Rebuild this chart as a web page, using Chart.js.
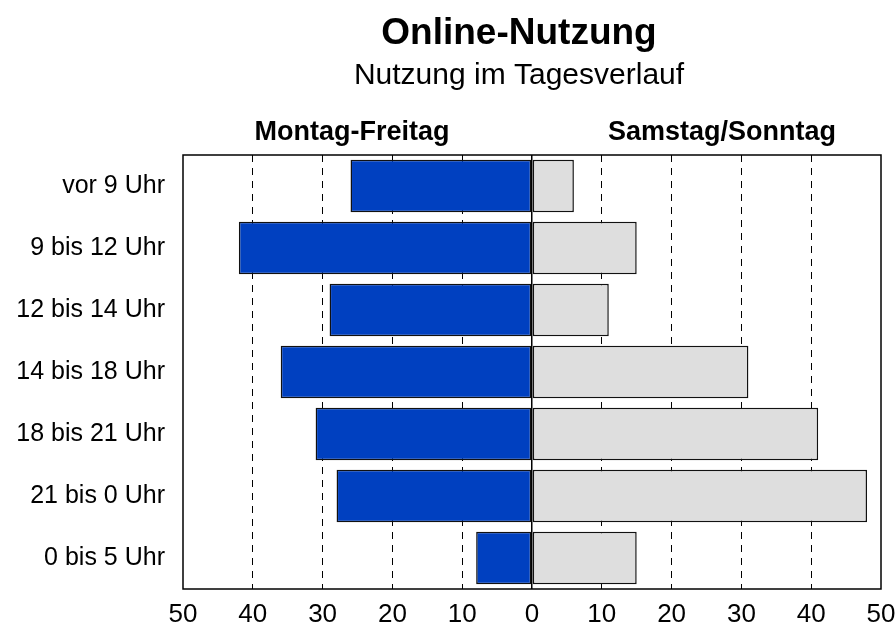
<!DOCTYPE html>
<html>
<head>
<meta charset="utf-8">
<script src="https://cdn.jsdelivr.net/npm/chart.js@4"></script>
<style>
html,body{margin:0;padding:0;background:#fff;}
#wrap{width:896px;height:627px;position:relative;}
</style>
</head>
<body>
<div id="wrap"><canvas id="c" width="896" height="627"></canvas></div>
<script>
const categories = ["vor 9 Uhr","9 bis 12 Uhr","12 bis 14 Uhr","14 bis 18 Uhr","18 bis 21 Uhr","21 bis 0 Uhr","0 bis 5 Uhr"];
const weekdayValues = [26, 42, 29, 36, 31, 28, 8];
const weekendValues = [6, 15, 11, 31, 41, 48, 15];
const tickValues = [-50,-40,-30,-20,-10,0,10,20,30,40,50];
const titleText = "Online-Nutzung";
const subtitleText = "Nutzung im Tagesverlauf";
const leftHeading = "Montag-Freitag";
const rightHeading = "Samstag/Sonntag";

const FONT = "'Liberation Sans', Arial, sans-serif";

const decor = {
  id: 'decor',
  afterDraw(chart) {
    const ctx = chart.ctx;
    const a = chart.chartArea;
    ctx.save();
    ctx.fillStyle = '#000';
    ctx.textAlign = 'center';
    ctx.textBaseline = 'alphabetic';
    ctx.font = "bold 37px " + FONT;
    ctx.fillText(titleText, 519, 44);
    ctx.font = "30px " + FONT;
    ctx.fillText(subtitleText, 519, 84);
    ctx.font = "bold 27px " + FONT;
    ctx.fillText(leftHeading, 352, 140);
    ctx.fillText(rightHeading, 722, 140);
    ctx.strokeStyle = '#000';
    ctx.lineWidth = 1.5;
    ctx.strokeRect(a.left, a.top, a.right - a.left, a.bottom - a.top);
    ctx.restore();
  }
};

new Chart(document.getElementById('c'), {
  type: 'bar',
  data: {
    labels: categories,
    datasets: [
      {
        label: leftHeading,
        data: weekdayValues.map(v => -v),
        backgroundColor: '#0040C0',
        borderColor: '#111',
        borderWidth: 1.5,
        borderSkipped: false,
        grouped: false,
        categoryPercentage: 0.85,
        barPercentage: 1.0
      },
      {
        label: rightHeading,
        data: weekendValues,
        backgroundColor: '#DEDEDE',
        borderColor: '#111',
        borderWidth: 1.5,
        borderSkipped: false,
        grouped: false,
        categoryPercentage: 0.85,
        barPercentage: 1.0
      }
    ]
  },
  options: {
    indexAxis: 'y',
    responsive: false,
    animation: false,
    devicePixelRatio: 1,
    layout: { padding: { top: 155, right: 15, left: 0, bottom: 0 } },
    plugins: {
      legend: { display: false },
      title: { display: false },
      tooltip: { enabled: false }
    },
    scales: {
      x: {
        min: -50, max: 50,
        afterBuildTicks(scale) { scale.ticks = tickValues.map(v => ({ value: v })); },
        afterFit(scale) { scale.height = 38; scale.paddingLeft = 0; scale.paddingRight = 0; },
        ticks: {
          color: '#000',
          font: { family: FONT, size: 26 },
          padding: 10,
          maxRotation: 0,
          autoSkip: false,
          callback: (v) => String(Math.abs(v))
        },
        grid: {
          drawTicks: false,
          color: (ctx) => {
            const v = ctx.tick ? ctx.tick.value : null;
            if (v === -50 || v === 50) return 'rgba(0,0,0,0)';
            return '#000';
          },
          lineWidth: (ctx) => (ctx.tick && ctx.tick.value === 0 ? 1.5 : 1)
        },
        border: {
          display: false,
          dash: (ctx) => (ctx.tick && ctx.tick.value === 0 ? [] : [7, 6])
        }
      },
      y: {
        afterFit(scale) { scale.width = 183; },
        ticks: {
          color: '#000',
          font: { family: FONT, size: 25 },
          padding: 18
        },
        grid: { display: false, drawTicks: false },
        border: { display: false }
      }
    }
  },
  plugins: [decor]
});
</script>
</body>
</html>
